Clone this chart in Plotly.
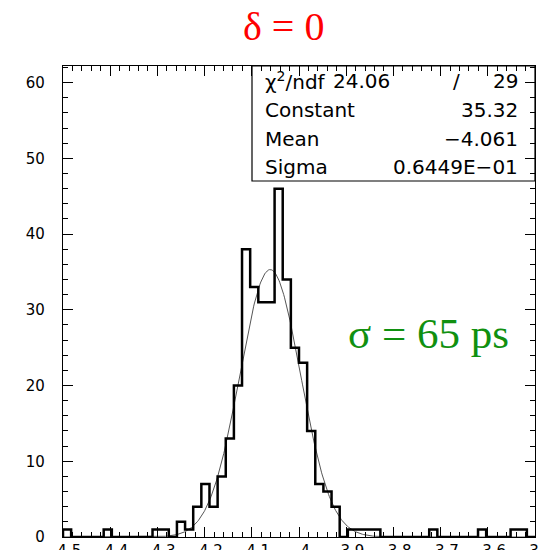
import numpy as np
import plotly.graph_objects as go

# ---- data ----
x_min, x_max, n_bins = -4.5, -3.5, 58
counts = [1, 0, 0, 0, 0, 1, 0, 0, 0, 0,
          0, 1, 1, 0, 2, 1, 4, 7, 4, 8,
          13, 20, 38, 33, 31, 31, 46, 34, 25, 23,
          14, 7, 6, 4, 0, 1, 1, 1, 1, 0,
          0, 0, 0, 0, 0, 1, 0, 0, 0, 0,
          0, 1, 0, 0, 0, 1, 1, 0]
fit_constant = 35.32
fit_mean = -4.061
fit_sigma = 0.06449
chi2_text, ndf_text = "24.06", "29"
stat_labels = ["χ<sup>2</sup>/ndf", "Constant", "Mean", "Sigma"]
stat_values = ["", "35.32", "−4.061", "0.6449E−01"]
title_text = "δ = 0"
sigma_text = "σ = 65 ps"
y_range = [0, 62.2]

# ---- histogram outline (step) ----
edges = np.linspace(x_min, x_max, n_bins + 1)
hx, hy = [edges[0]], [0]
for i, c in enumerate(counts):
    hx += [edges[i], edges[i + 1]]
    hy += [c, c]
hx.append(edges[-1]); hy.append(0)

# ---- fitted gaussian from displayed parameters ----
gx = np.linspace(x_min, x_max, 600)
gy = fit_constant * np.exp(-0.5 * ((gx - fit_mean) / fit_sigma) ** 2)

fig = go.Figure()
fig.add_trace(go.Scatter(x=gx, y=gy, mode="lines",
                         line=dict(color="#555555", width=1), hoverinfo="skip"))
fig.add_trace(go.Scatter(x=hx, y=hy, mode="lines",
                         line=dict(color="black", width=2.5), hoverinfo="skip"))

W, H = 543, 550
L, R, T, B = 63, 535, 66, 537


def px(xp):
    return (xp - L) / (R - L)


def py(yp):
    return (B - yp) / (B - T)


ann = []
sfont = dict(family="DejaVu Sans", size=20, color="black")
rows_y = [81, 110, 138.5, 167]
for lab, val, yy in zip(stat_labels, stat_values, rows_y):
    ann.append(dict(xref="paper", yref="paper", x=px(263), y=py(yy), text=lab,
                    showarrow=False, xanchor="left", yanchor="middle", font=sfont))
    if val:
        ann.append(dict(xref="paper", yref="paper", x=px(520), y=py(yy), text=val,
                        showarrow=False, xanchor="right", yanchor="middle", font=sfont))
ann.append(dict(xref="paper", yref="paper", x=px(392), y=py(rows_y[0]), text=chi2_text,
                showarrow=False, xanchor="right", yanchor="middle", font=sfont))
ann.append(dict(xref="paper", yref="paper", x=px(456), y=py(rows_y[0]), text="/",
                showarrow=False, xanchor="center", yanchor="middle", font=sfont))
ann.append(dict(xref="paper", yref="paper", x=px(520), y=py(rows_y[0]), text=ndf_text,
                showarrow=False, xanchor="right", yanchor="middle", font=sfont))
ann.append(dict(xref="paper", yref="paper", x=px(283), y=py(26), text=title_text,
                showarrow=False, xanchor="center", yanchor="middle",
                font=dict(family="Liberation Serif", size=40, color="#ff0000")))
ann.append(dict(xref="paper", yref="paper", x=px(428), y=py(333), text=sigma_text,
                showarrow=False, xanchor="center", yanchor="middle",
                font=dict(family="Liberation Serif", size=43, color="#109010")))

shapes = [dict(type="rect", xref="paper", yref="paper", x0=px(252), x1=1,
               y0=py(181), y1=1, line=dict(color="black", width=1.2),
               fillcolor="rgba(0,0,0,0)")]

axis_common = dict(showgrid=False, zeroline=False, showline=True, linecolor="black",
                   linewidth=1.2, mirror="ticks", ticks="inside", ticklen=10,
                   tickcolor="black", tickwidth=1, automargin=False,
                   ticklabeloverflow="allow",
                   tickfont=dict(family="DejaVu Sans", size=15, color="black"))
fig.update_layout(
    width=W, height=H,
    margin=dict(l=L, r=W - R, t=T, b=H - B, pad=0, autoexpand=False),
    paper_bgcolor="white", plot_bgcolor="white",
    showlegend=False,
    annotations=ann, shapes=shapes,
    xaxis=dict(range=[x_min, x_max + 1e-6], tick0=x_min, dtick=0.1,
               minor=dict(dtick=0.02, ticks="inside", ticklen=5, tickcolor="black"),
               **axis_common),
    yaxis=dict(range=y_range, tick0=0, dtick=10,
               minor=dict(dtick=2, ticks="inside", ticklen=5, tickcolor="black"),
               ticklabelstandoff=14, **axis_common),
)
fig.write_html("out.html")
